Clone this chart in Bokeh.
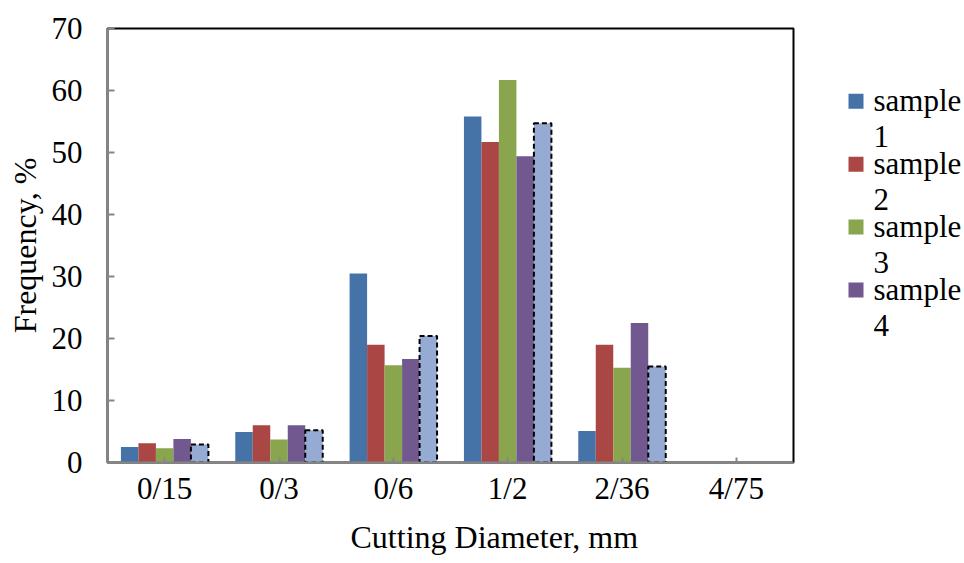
from bokeh.plotting import figure
from bokeh.layouts import row
from bokeh.models import (ColumnDataSource, FactorRange, FixedTicker, Range1d, Title)
from bokeh.core.properties import value
from bokeh.transform import dodge
from bokeh.embed import file_html
from bokeh.resources import INLINE

categories = ["0/15", "0/3", "0/6", "1/2", "2/36", "4/75"]
sample1 = [2.5, 4.9, 30.5, 55.8, 5.1, 0]
sample2 = [3.1, 6.0, 19.0, 51.7, 19.0, 0]
sample3 = [2.3, 3.7, 15.7, 61.7, 15.3, 0]
sample4 = [3.8, 6.0, 16.7, 49.4, 22.5, 0]
sample5 = [2.9, 5.2, 20.4, 54.7, 15.5, 0]
legend_labels = ["sample\n1", "sample\n2", "sample\n3", "sample\n4"]
y_ticks = [0, 10, 20, 30, 40, 50, 60, 70]

colors = ["#4572a7", "#aa4643", "#89a54e", "#71588f", "#95abd3"]
FONT = "Liberation Serif"

src = ColumnDataSource(dict(cat=categories, s1=sample1, s2=sample2, s3=sample3,
                            s4=sample4, s5=sample5,
                            s5_line=["black" if v > 0 else None for v in sample5]))

MAIN_W = 800
FRAME_TOP, FRAME_BOTTOM = 28, 463
p = figure(x_range=FactorRange(*categories, range_padding=0), y_range=Range1d(0, 70),
           width=MAIN_W, height=563, output_backend="svg", toolbar_location=None,
           min_border_left=107, min_border_right=MAIN_W - 793, min_border_top=FRAME_TOP,
           min_border_bottom=563 - FRAME_BOTTOM)

bw = 0.153
offsets = [-2 * bw, -bw, 0, bw, 2 * bw]
fields = ["s1", "s2", "s3", "s4", "s5"]
for i, f in enumerate(fields):
    if i == 4:
        p.vbar(x=dodge("cat", offsets[i], range=p.x_range), top=f, width=bw,
               source=src, fill_color=colors[i], line_color="s5_line",
               line_dash="5 3", line_width=2)
    else:
        p.vbar(x=dodge("cat", offsets[i], range=p.x_range), top=f, width=bw,
               source=src, fill_color=colors[i], line_color=None)

p.xgrid.visible = False
p.ygrid.visible = False
p.outline_line_color = "black"
p.outline_line_width = 2
p.outline_line_alpha = 1
p.background_fill_color = "white"
p.border_fill_color = "white"

# axes
p.yaxis.ticker = FixedTicker(ticks=y_ticks)
p.yaxis.minor_tick_line_color = None
p.yaxis.major_tick_in = 7
p.yaxis.major_tick_out = 0
p.yaxis.axis_line_color = "#868686"
p.yaxis.axis_line_width = 2
p.yaxis.major_tick_line_color = "#868686"
p.yaxis.major_tick_line_width = 2
p.yaxis.major_label_standoff = 25
p.yaxis.axis_label = "Frequency, %"
p.yaxis.axis_label_standoff = 6

p.xaxis.axis_line_color = "#868686"
p.xaxis.axis_line_width = 2
p.xaxis.major_tick_in = 5
p.xaxis.major_tick_out = 0
p.xaxis.major_tick_line_color = "#868686"
p.xaxis.major_tick_line_width = 2
p.xaxis.major_label_standoff = 8

for ax in (p.xaxis, p.yaxis):
    ax.major_label_text_font = FONT
    ax.major_label_text_font_size = "31px"
    ax.major_label_text_color = "black"
    ax.axis_label_text_font = FONT
    ax.axis_label_text_font_size = "32px"
    ax.axis_label_text_font_style = "normal"
    ax.axis_label_text_color = "black"

xtitle = Title(text="Cutting Diameter, mm", align="left", offset=243,
               text_font=FONT, text_font_size="32px", text_font_style="normal",
               text_color="black", standoff=17)
p.add_layout(xtitle, "below")

# legend drawn in its own small panel to the right; its frame is aligned with the
# main plot's frame, so its y range spans the same pixel rows (top 28 .. bottom 463)
LEG_W = 964 - MAIN_W
lg = figure(width=LEG_W, height=563, x_range=Range1d(0, LEG_W),
            y_range=Range1d(FRAME_BOTTOM, FRAME_TOP),
            output_backend="svg", toolbar_location=None, min_border=0,
            min_border_top=FRAME_TOP, min_border_bottom=563 - FRAME_BOTTOM,
            x_axis_location=None, y_axis_location=None)
lg.grid.visible = False
lg.outline_line_color = None
lg.background_fill_color = "white"
lg.border_fill_color = "white"

n = len(legend_labels)
step = 63
y0 = 101
leg_src = ColumnDataSource(dict(
    y=[y0 + step * i for i in range(n)],
    ty=[y0 - 18 + step * i for i in range(n)],
    label=legend_labels,
    color=colors[:n]))
lg.scatter(x=848 - MAIN_W + 7.5, y="y", marker="square", size=15, fill_color="color",
           line_color=None, source=leg_src)
lg.text(x=873 - MAIN_W, y="ty", text="label", source=leg_src,
        text_font=value(FONT), text_font_size="31px", text_color="black",
        text_baseline="top", text_align="left", text_line_height=1.02)

layout = row(p, lg, spacing=0)
open("out.html", "w").write(file_html(layout, INLINE))
